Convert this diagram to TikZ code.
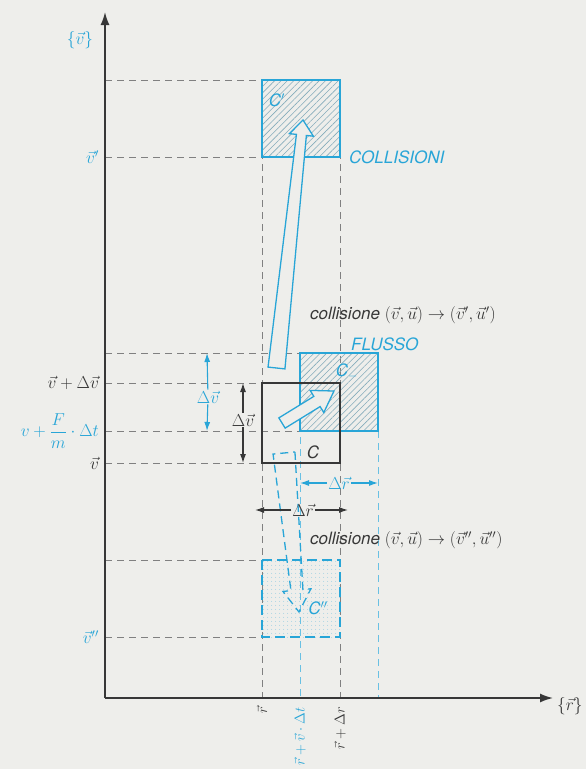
\documentclass[tikz,border=0pt]{standalone}
\usepackage{fontspec}
\setmainfont{TeX Gyre Heros}
\usepackage{amsmath}
\usetikzlibrary{arrows.meta,patterns.meta,calc}
\definecolor{cyanline}{RGB}{40,165,215}
\definecolor{darkline}{RGB}{55,55,55}
\definecolor{paper}{RGB}{238,238,235}

% hollow arrow: style, tail, tip, tail half width, neck half width, head half width, head length
\newcommand{\hollowarrow}[7][]{%
  \coordinate (neck) at ($(#3)!#7!(#2)$);
  \draw[#1] ($(#2)!#4!90:(#3)$) -- ($(neck)!#5!90:(#3)$) -- ($(neck)!#6!90:(#3)$) -- (#3)
    -- ($(neck)!#6!-90:(#3)$) -- ($(neck)!#5!-90:(#3)$) -- ($(#2)!#4!-90:(#3)$) -- cycle;}

\begin{document}
\begin{tikzpicture}[x=1pt, y=-1pt,
  every node/.style={font=\fontsize{17}{19}\selectfont\itshape, inner sep=1pt, text=darkline},
  axisline/.style={darkline, line width=1.6pt, -{Latex[length=13pt,width=9pt]}},
  guide/.style={gray, line width=0.7pt, dash pattern=on 7pt off 5pt},
  blueguide/.style={cyanline!70, line width=0.7pt, dash pattern=on 7pt off 5pt},
  cellbox/.style={darkline, line width=1.6pt},
  hatchbox/.style={cyanline, line width=1.6pt, pattern={Lines[angle=45, distance=4.5pt, line width=0.6pt]}, pattern color=cyanline!45!gray!70!paper},
  dotbox/.style={cyanline, line width=1.6pt, dash pattern=on 10pt off 5pt, pattern={Dots[distance=4pt, radius=0.6pt]}, pattern color=cyanline!50!paper},
  sizearrow/.style={line width=1.1pt, -{Latex[length=9pt,width=6pt]}},
  bluetext/.style={text=cyanline},
  axistext/.style={font=\fontsize{15}{17}\selectfont\itshape, rotate=90, anchor=east}]

  \useasboundingbox (0,0) rectangle (586,769);
  \fill[paper] (0,0) rectangle (586,769);

  % horizontal guides (velocity levels)
  \draw[guide] (105,80) -- (262,80);
  \draw[guide] (105,157) -- (262,157);
  \draw[guide] (105,353) -- (300,353);
  \draw[guide] (105,383) -- (262,383);
  \draw[guide] (105,431) -- (300,431);
  \draw[guide] (105,463) -- (262,463);
  \draw[guide] (105,560) -- (262,560);
  \draw[guide] (105,637) -- (262,637);

  % vertical guides (position levels)
  \draw[guide] (262,80) -- (262,698);
  \draw[guide] (340,80) -- (340,698);
  \draw[blueguide] (300,353) -- (300,698);
  \draw[blueguide] (378,431) -- (378,698);

  % cells
  \draw[hatchbox] (262,80) rectangle (340,157);
  \draw[hatchbox] (300,353) rectangle (378,431);
  \draw[dotbox] (262,560) rectangle (340,637);
  \draw[cellbox] (262,383) rectangle (340,463);

  % hollow arrows
  \coordinate (colltail) at (276.5,368);
  \coordinate (colltip) at (303,120);
  \coordinate (flowtail) at (282,423);
  \coordinate (flowtip) at (334,391);
  \coordinate (gaintail) at (284,453);
  \coordinate (gaintip) at (299,612);
  \hollowarrow[cyanline, line width=1.3pt, fill=paper]{colltail}{colltip}{8.5pt}{5pt}{12pt}{15pt}
  \hollowarrow[cyanline, line width=1.3pt, fill=paper]{flowtail}{flowtip}{6pt}{6pt}{13pt}{20pt}
  \hollowarrow[cyanline, line width=1.3pt, dash pattern=on 8pt off 5pt]{gaintail}{gaintip}{11pt}{6pt}{14pt}{22pt}

  % axes
  \coordinate (O) at (105,698);
  \coordinate (vend) at (105,12);
  \coordinate (rend) at (553,698);
  \draw[axisline] (O) -- (vend);
  \draw[axisline] (O) -- (rend);
  \node[bluetext] (vset) at (80,40) {$\{\vec v\}$};
  \node[anchor=west] (rset) at (556,706) {$\{\vec r\}$};

  % velocity labels
  \node[bluetext, anchor=east] (vprime) at (100,157) {$\vec v'$};
  \node[anchor=east] (vplus) at (100,383) {$\vec v+\Delta\vec v$};
  \node[bluetext, anchor=east] (vforce) at (100,431) {$v+\dfrac{F}{m}\cdot\Delta t$};
  \node[anchor=east] (vzero) at (100,463) {$\vec v$};
  \node[bluetext, anchor=east] (vsecond) at (100,637) {$\vec v''$};

  % position labels
  \node[axistext] (rzero) at (262,706) {$\vec r$};
  \node[axistext, bluetext] (rflow) at (300,706) {$\vec r+\vec v\cdot\Delta t$};
  \node[axistext] (rplus) at (340,706) {$\vec r+\Delta r$};

  % cell names
  \node[bluetext] (cprime) at (277,100) {C$'$};
  \node[bluetext] (cminus) at (347,372) {C$_-$};
  \node (ccell) at (313,452) {C};
  \node[bluetext] (csecond) at (318,608) {C$''$};

  % texts
  \node[bluetext, anchor=west] (colltext) at (348,157) {COLLISIONI};
  \node[bluetext, anchor=south west] (flowtext) at (350,352) {FLUSSO};
  \node[anchor=west] (collup) at (309,315) {collisione $(\vec v,\vec u)\rightarrow(\vec v',\vec u')$};
  \node[anchor=west] (colldown) at (309,540) {collisione $(\vec v,\vec u)\rightarrow(\vec v'',\vec u'')$};

  % size arrows
  \coordinate (dvbtop) at (207,353);
  \coordinate (dvbbot) at (207,431);
  \node[bluetext] (dvb) at (208,397) {$\Delta\vec v$};
  \draw[sizearrow, cyanline] (dvb) -- (dvbtop);
  \draw[sizearrow, cyanline] (dvb) -- (dvbbot);

  \coordinate (dvtop) at (243,383);
  \coordinate (dvbot) at (243,463);
  \node (dv) at (243,420) {$\Delta\vec v$};
  \draw[sizearrow, darkline] (dv) -- (dvtop);
  \draw[sizearrow, darkline] (dv) -- (dvbot);

  \coordinate (drbleft) at (300,483);
  \coordinate (drbright) at (378,483);
  \node[bluetext] (drb) at (339,483) {$\Delta\vec r$};
  \draw[sizearrow, cyanline] (drb) -- (drbleft);
  \draw[sizearrow, cyanline] (drb) -- (drbright);

  \coordinate (drleft) at (255,510);
  \coordinate (drright) at (348,510);
  \node (dr) at (303,510) {$\Delta\vec r$};
  \draw[sizearrow, darkline] (dr) -- (drleft);
  \draw[sizearrow, darkline] (dr) -- (drright);

\end{tikzpicture}
\end{document}
